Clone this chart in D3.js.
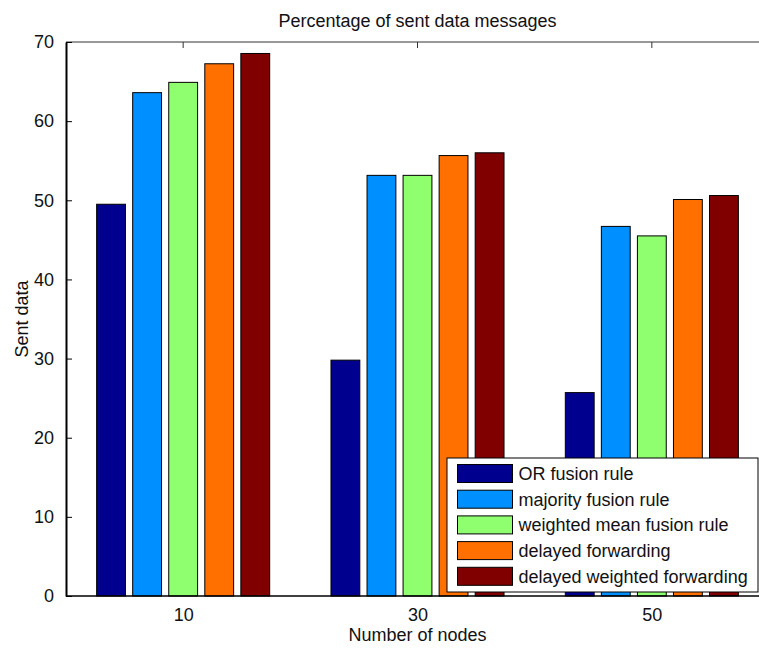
<!DOCTYPE html>
<html>
<head>
<meta charset="utf-8">
<script src="https://cdn.jsdelivr.net/npm/d3@7"></script>
<style>
  body { margin: 0; background: #fff; }
  svg { display: block; font-family: "Liberation Sans", Arial, sans-serif; }
  .bar { stroke: #000; stroke-width: 1; }
</style>
</head>
<body>
<svg id="chart" width="759" height="648"></svg>
<script>
const nodes = ['10', '30', '50'];
const series = ['OR fusion rule', 'majority fusion rule', 'weighted mean fusion rule', 'delayed forwarding', 'delayed weighted forwarding'];
const orFusion = [49.5, 29.8, 25.7];
const majorityFusion = [63.6, 53.15, 46.7];
const weightedMean = [64.9, 53.15, 45.5];
const delayedFwd = [67.25, 55.65, 50.1];
const delayedWeightedFwd = [68.55, 56.0, 50.6];
const yTicks = [0, 10, 20, 30, 40, 50, 60, 70];
const colors = ['#00008f', '#008fff', '#8fff70', '#ff7000', '#800000'];

const values = [orFusion, majorityFusion, weightedMean, delayedFwd, delayedWeightedFwd];

const svg = d3.select("#chart");
const mLeft = 66, mTop = 42, mBottom = 596, mRight = 769;

const xScale = d3.scaleLinear()
    .domain([0.5, nodes.length + 0.5])
    .range([mLeft, mRight]);

const yScale = d3.scaleLinear()
    .domain([0, 70])
    .range([mBottom, mTop]);

// matlab style group layout
const groupWidth = Math.min(0.8, series.length / (series.length + 1.5));
const inner = d3.scaleBand()
    .domain(series)
    .range([-groupWidth / 2, groupWidth / 2])
    .paddingInner(0.2)
    .paddingOuter(0.1);

const unit = xScale(1) - xScale(0);

// Bars
series.forEach((s, si) => {
    svg.selectAll(".bar-" + si)
        .data(values[si])
        .enter()
        .append("rect")
        .attr("class", "bar")
        .attr("x", (d, i) => xScale(i + 1) + inner(s) * unit)
        .attr("y", d => yScale(d))
        .attr("width", inner.bandwidth() * unit)
        .attr("height", d => mBottom - yScale(d))
        .attr("fill", colors[si]);
});

// Axes box lines
svg.append("line")
    .attr("x1", mLeft).attr("x2", mRight)
    .attr("y1", mTop).attr("y2", mTop)
    .attr("stroke", "#333").attr("stroke-width", 1);
svg.append("line")
    .attr("x1", mLeft).attr("x2", mRight)
    .attr("y1", mBottom).attr("y2", mBottom)
    .attr("stroke", "#000").attr("stroke-width", 1.5);

// Y axis with inner ticks
const yAxis = d3.axisLeft(yScale)
    .tickValues(yTicks)
    .tickSizeInner(-6)
    .tickSizeOuter(0)
    .tickPadding(12);

const yG = svg.append("g")
    .attr("transform", `translate(${mLeft}, 0)`)
    .call(yAxis);
yG.select(".domain").attr("stroke", "#000").attr("stroke-width", 2);
yG.selectAll("text").attr("font-size", 18).attr("fill", "#111");

// X tick labels at bottom
const xAxis = d3.axisBottom(xScale)
    .tickValues(d3.range(1, nodes.length + 1))
    .tickFormat(d => nodes[d - 1])
    .tickSize(0)
    .tickPadding(12);

const xG = svg.append("g")
    .attr("transform", `translate(0, ${mBottom})`)
    .call(xAxis);
xG.select(".domain").remove();
xG.selectAll("text").attr("font-size", 18).attr("fill", "#111");

// top ticks
svg.selectAll(".top-tick")
    .data(nodes)
    .enter()
    .append("line")
    .attr("x1", (d, i) => xScale(i + 1))
    .attr("x2", (d, i) => xScale(i + 1))
    .attr("y1", mTop)
    .attr("y2", mTop + 6)
    .attr("stroke", "#333");

// Title and labels
svg.append("text")
    .attr("x", (mLeft + mRight) / 2)
    .attr("y", 27)
    .attr("text-anchor", "middle")
    .attr("font-size", 18)
    .attr("fill", "#111")
    .text("Percentage of sent data messages");

svg.append("text")
    .attr("x", (mLeft + mRight) / 2)
    .attr("y", 641)
    .attr("text-anchor", "middle")
    .attr("font-size", 18)
    .attr("fill", "#111")
    .text("Number of nodes");

svg.append("text")
    .attr("transform", "translate(28, 319) rotate(-90)")
    .attr("text-anchor", "middle")
    .attr("font-size", 18)
    .attr("fill", "#111")
    .text("Sent data");

// Legend
const legend = svg.append("g").attr("transform", "translate(447, 458)");
legend.append("rect")
    .attr("width", 311)
    .attr("height", 134)
    .attr("fill", "#fff")
    .attr("stroke", "#000");

const items = legend.selectAll(".item")
    .data(series)
    .enter()
    .append("g")
    .attr("transform", (d, i) => `translate(10.5, ${6.5 + i * 25.7})`);

items.append("rect")
    .attr("width", 55)
    .attr("height", 18)
    .attr("fill", (d, i) => colors[i])
    .attr("stroke", "#000");

items.append("text")
    .attr("x", 61)
    .attr("y", 15.5)
    .attr("font-size", 18)
    .attr("fill", "#111")
    .text(d => d);
</script>
</body>
</html>
